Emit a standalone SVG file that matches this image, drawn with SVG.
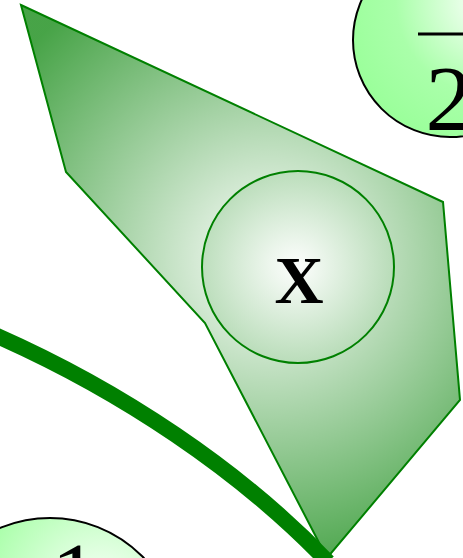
<svg xmlns="http://www.w3.org/2000/svg" width="463" height="558" viewBox="0 0 463 558">
<style>
.lbl{font-family:"Liberation Serif","Times New Roman",serif;fill:#000;text-anchor:middle}
.ball{stroke:#000;stroke-width:2;fill:url(#gBall)}
</style>
<defs>
<radialGradient id="gPoly" gradientUnits="userSpaceOnUse" cx="270" cy="260" r="320">
<stop offset="0" stop-color="#008000" stop-opacity="0"/>
<stop offset="1" stop-color="#008000" stop-opacity="0.72"/>
</radialGradient>
<radialGradient id="gX" gradientUnits="userSpaceOnUse" cx="298" cy="267" r="96">
<stop offset="0" stop-color="#ffffff"/>
<stop offset="1" stop-color="#b8dcb8"/>
</radialGradient>
<radialGradient id="gBall" cx="0.7" cy="0.3" r="0.8">
<stop offset="0" stop-color="#ffffff"/>
<stop offset="0.6" stop-color="#aaffaa"/>
<stop offset="1" stop-color="#99ff99"/>
</radialGradient>
</defs>
<g id="connectors">
<path d="M-5,335 C120,390 240,470 328,562" fill="none" stroke="#008000" stroke-width="16"/>
</g>
<g id="region">
<polygon points="21,5 443,202 460,400 327,558 205,323 66,172" fill="url(#gPoly)" stroke="#008000" stroke-width="2" stroke-linejoin="miter"/>
</g>
<g id="nodeX">
<circle cx="298" cy="267" r="96" fill="url(#gX)" fill-opacity="0.85" stroke="#008000" stroke-width="2"/>
<text class="lbl" x="299" y="303" font-size="68" font-weight="bold">X</text>
</g>
<g id="nodeHalf">
<circle class="ball" cx="450" cy="40" r="97"/>
<line x1="418" y1="34" x2="470" y2="34" stroke="#000" stroke-width="3"/>
<text class="lbl" x="449" y="130" font-size="94">2</text>
</g>
<g id="nodeOne">
<circle class="ball" cx="50" cy="648" r="130"/>
<text class="lbl" x="75" y="607" font-size="94">1</text>
</g>
</svg>
